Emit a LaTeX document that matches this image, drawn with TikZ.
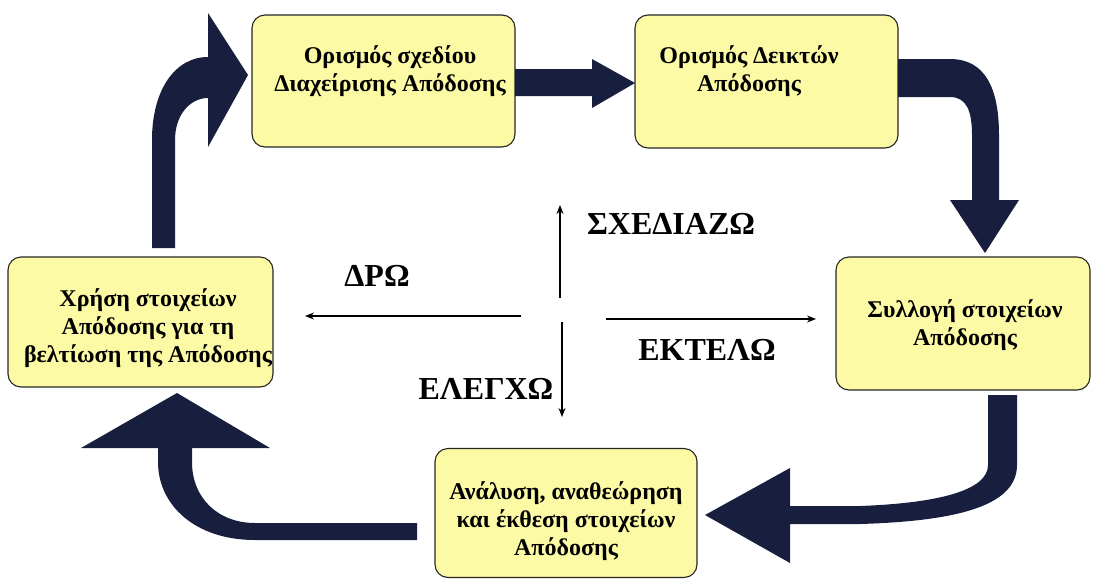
\documentclass[tikz,border=0pt]{standalone}
\usepackage{fontspec}
\newfontfamily\tnr{Liberation Serif}[BoldFont={Liberation Serif Bold}]
\usetikzlibrary{arrows.meta}
\definecolor{boxfill}{RGB}{253,250,165}
\definecolor{navy}{RGB}{24,31,62}
\begin{document}
\begin{tikzpicture}[x=1pt,y=-1pt,
  box/.style={draw=black!85, line width=1.1pt, fill=boxfill, rounded corners=13pt, inner sep=0pt},
  lbl/.style={font=\tnr\bfseries\fontsize{24}{28}\selectfont, align=center, inner sep=0pt},
  big/.style={font=\tnr\bfseries\fontsize{32}{36}\selectfont, inner sep=0pt},
  bigarrow/.style={fill=navy},
  thinarrow/.style={line width=1.3pt, -{Stealth[length=9pt,width=7pt]}}]
\useasboundingbox (0,0) rectangle (1093,579);
% boxes
\node[box, minimum width=263pt, minimum height=132pt] (A) at (383.5,81) {};
\node[box, minimum width=263pt, minimum height=133pt] (B) at (766.5,81.5) {};
\node[box, minimum width=254pt, minimum height=133pt] (C) at (963,323.5) {};
\node[box, minimum width=262pt, minimum height=129pt] (D) at (566,513) {};
\node[box, minimum width=265pt, minimum height=130pt] (E) at (140.5,322) {};
% texts
\node[lbl] (tA) at (390,71) {Ορισμός σχεδίου\\Διαχείρισης Απόδοσης};
\node[lbl] (tB) at (749,71) {Ορισμός Δεικτών\\Απόδοσης};
\node[lbl] (tC) at (965,325) {Συλλογή στοιχείων\\Απόδοσης};
\node[lbl] (tD) at (566,521) {Ανάλυση, αναθεώρηση\\και έκθεση στοιχείων\\Απόδοσης};
\node[lbl] (tE) at (148,328) {Χρήση στοιχείων\\Απόδοσης για τη\\βελτίωση της Απόδοσης};
% thick arrows
\fill[bigarrow] (515,69) -- (592,69) -- (592,59) -- (635,83) -- (592,108) -- (592,96) -- (515,96) -- cycle;
\fill[bigarrow] (898,59) -- (950,59) .. controls (985,59) and (999,88) .. (999,135) -- (999,200) -- (1019,200) -- (985,253) -- (950,200) -- (972,200) -- (972,135) .. controls (972,110) and (966,97) .. (950,97) -- (898,97) -- cycle;
\fill[bigarrow] (988,395) -- (1017,395) -- (1017,465) .. controls (1017,505) and (960,521) .. (860,524) -- (790,524) -- (790,563) -- (705,515) -- (790,468) -- (790,506) -- (860,506) .. controls (940,503) and (988,490) .. (988,465) -- cycle;
\fill[bigarrow] (417,523) -- (417,540) -- (255,540) .. controls (195,540) and (158,505) .. (158,462) -- (158,448) -- (81,448) -- (177,393) -- (270,448) -- (192,448) -- (192,462) .. controls (192,498) and (218,523) .. (255,523) -- cycle;
\fill[bigarrow] (152,248) -- (152,140) .. controls (152,90) and (175,57) .. (208,57) -- (208,13) -- (248,75) -- (208,147) -- (208,98) .. controls (190,98) and (175,115) .. (175,140) -- (175,248) -- cycle;
% thin arrows
\coordinate (u0) at (560,298); \coordinate (u1) at (560,205);
\coordinate (d0) at (562,322); \coordinate (d1) at (562,417);
\coordinate (l0) at (521,316); \coordinate (l1) at (305,316);
\coordinate (r0) at (606,319); \coordinate (r1) at (816,319);
\draw[thinarrow] (u0) -- (u1);
\draw[thinarrow] (d0) -- (d1);
\draw[thinarrow] (l0) -- (l1);
\draw[thinarrow] (r0) -- (r1);
% big labels
\node[big] (plan) at (671,224) {ΣΧΕΔΙΑΖΩ};
\node[big] (act) at (377,276) {ΔΡΩ};
\node[big] (do) at (707,350) {ΕΚΤΕΛΩ};
\node[big] (check) at (486,389) {ΕΛΕΓΧΩ};
\end{tikzpicture}
\end{document}
